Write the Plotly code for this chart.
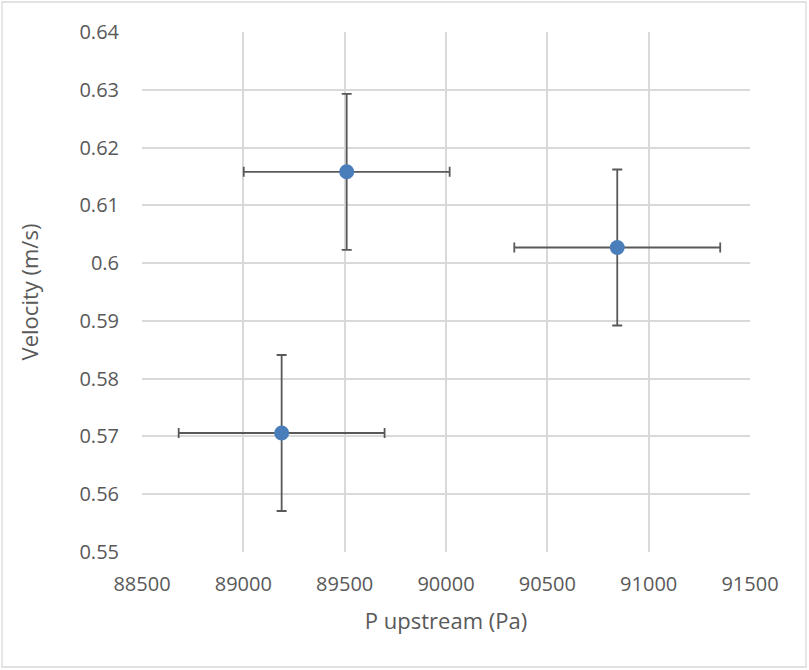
import plotly.graph_objects as go

p_upstream = [89189, 89510, 90845]
velocity = [0.5706, 0.6158, 0.6027]
p_err = [508, 508, 508]
v_err = [0.0135, 0.0135, 0.0135]

x_ticks = [88500, 89000, 89500, 90000, 90500, 91000, 91500]
x_tick_labels = ["88500", "89000", "89500", "90000", "90500", "91000", "91500"]
y_ticks = [0.55, 0.56, 0.57, 0.58, 0.59, 0.60, 0.61, 0.62, 0.63, 0.64]
y_tick_labels = ["0.55", "0.56", "0.57", "0.58", "0.59", "0.6", "0.61", "0.62", "0.63", "0.64"]

font_family = "Open Sans, sans-serif"

fig = go.Figure()
fig.add_trace(go.Scatter(
    x=p_upstream, y=velocity, mode="markers",
    marker=dict(color="#4a7ebb", size=15),
    error_x=dict(type="data", array=p_err, color="#595959", thickness=1.8, width=5),
    error_y=dict(type="data", array=v_err, color="#595959", thickness=1.8, width=5),
    showlegend=False,
))

axis_common = dict(
    showgrid=True, gridcolor="#d9d9d9", gridwidth=1.5,
    zeroline=False, showline=False, ticks="", automargin=False,
    tickfont=dict(family=font_family, size=20, color="#595959"),
    title_font=dict(family=font_family, size=22, color="#595959"),
)

fig.update_layout(
    width=809, height=670,
    margin=dict(l=142, r=59, t=32, b=118),
    paper_bgcolor="white", plot_bgcolor="white",
    xaxis=dict(range=[88500, 91500], tickmode="array", tickvals=x_ticks, ticktext=x_tick_labels,
               ticklabelstandoff=18,
               title=dict(text="P upstream (Pa)", standoff=17), **axis_common),
    yaxis=dict(range=[0.55, 0.64], tickmode="array", tickvals=y_ticks, ticktext=y_tick_labels,
               ticklabelstandoff=22,
               title=dict(text="Velocity (m/s)", standoff=34), **axis_common),
)

fig.add_shape(type="rect", xref="x domain", yref="y domain",
              x0=-140/608, x1=1 + 56/608, y0=-115/520, y1=1 + 30/520,
              line=dict(color="#d9d9d9", width=1.3), layer="below")

fig.write_html("out.html", config={"displayModeBar": False},
               post_script="document.body.style.margin='0';document.body.style.overflow='hidden';")
